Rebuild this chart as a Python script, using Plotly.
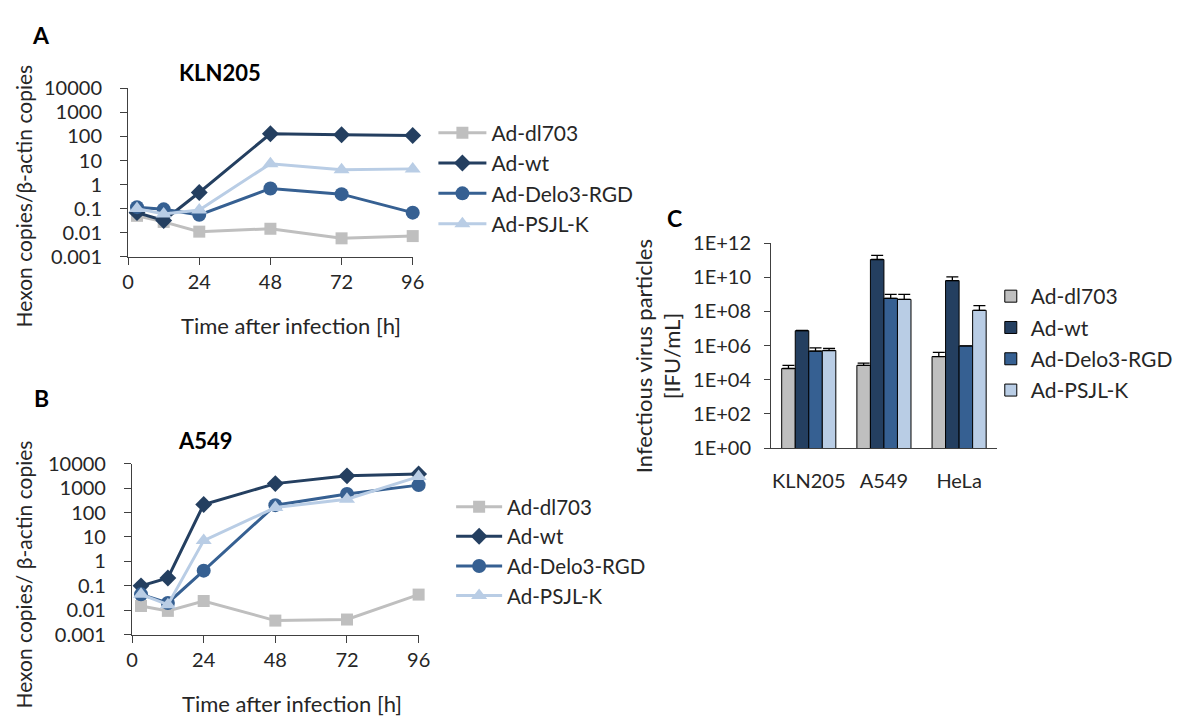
import plotly.graph_objects as go

# ---- data -------------------------------------------------------------
hours = [3, 12, 24, 48, 72, 96]
series_names = ["Ad-dl703", "Ad-wt", "Ad-Delo3-RGD", "Ad-PSJL-K"]

# Hexon copies / beta-actin copies, KLN205 cells
kln205_dl703 = [0.05, 0.028, 0.011, 0.0145, 0.0058, 0.0072]
kln205_wt = [0.068, 0.032, 0.47, 130, 118, 110]
kln205_delo3 = [0.115, 0.093, 0.055, 0.69, 0.40, 0.068]
kln205_psjl = [0.10, 0.06, 0.087, 7.4, 4.1, 4.5]

# Hexon copies / beta-actin copies, A549 cells
a549_dl703 = [0.015, 0.0095, 0.024, 0.0038, 0.0042, 0.044]
a549_wt = [0.10, 0.21, 214, 1520, 3160, 3800]
a549_delo3 = [0.045, 0.02, 0.42, 200, 575, 1320]
a549_psjl = [0.045, 0.017, 7.1, 160, 350, 2950]

# Infectious virus particles [IFU/mL]
cell_lines = ["KLN205", "A549", "HeLa"]
ifu_dl703 = [4.6e4, 7.0e4, 2.3e5]
ifu_wt = [7.5e6, 1.1e11, 6.4e9]
ifu_delo3 = [4.8e5, 5.9e8, 9.6e5]
ifu_psjl = [5.2e5, 5.1e8, 1.17e8]
# upper ends of the error bars
ifu_dl703_hi = [7.0e4, 9.5e4, 4.0e5]
ifu_wt_hi = [7.8e6, 1.9e11, 1.07e10]
ifu_delo3_hi = [7.4e5, 1.0e9, 9.6e5]
ifu_psjl_hi = [7.0e5, 1.0e9, 2.2e8]

# tick labels
copy_ticks = [0.001, 0.01, 0.1, 1, 10, 100, 1000, 10000]
copy_tick_text = ["0.001", "0.01", "0.1", "1", "10", "100", "1000", "10000"]
hour_ticks = [0, 24, 48, 72, 96]
ifu_ticks = [1, 1e2, 1e4, 1e6, 1e8, 1e10, 1e12]
ifu_tick_text = ["1E+00", "1E+02", "1E+04", "1E+06", "1E+08", "1E+10", "1E+12"]

# ---- styling ----------------------------------------------------------
W, H = 1183, 727
FONT = "Lato"
TXT = "#262626"
AXIS = "#404040"
colors = ["#bfbfbf", "#243f60", "#366092", "#b9cde5"]
symbols = ["square", "diamond", "circle", "triangle-up"]
msizes = [12, 13, 14, 14]


def px_x(p):
    return p / W


def px_y(p):
    return 1 - p / H


fig = go.Figure()

line_sets = [
    ("x", "y", "legend", [kln205_dl703, kln205_wt, kln205_delo3, kln205_psjl]),
    ("x2", "y2", "legend2", [a549_dl703, a549_wt, a549_delo3, a549_psjl]),
]
for xa, ya, leg, sets in line_sets:
    for i, vals in enumerate(sets):
        fig.add_trace(go.Scatter(
            x=hours, y=vals, xaxis=xa, yaxis=ya, name=series_names[i],
            mode="lines+markers", legend=leg, legendgroup=f"{leg}-{i}",
            line=dict(color=colors[i], width=3),
            marker=dict(symbol=symbols[i], size=msizes[i], color=colors[i]),
            cliponaxis=False,
        ))

bar_sets = [
    (ifu_dl703, ifu_dl703_hi),
    (ifu_wt, ifu_wt_hi),
    (ifu_delo3, ifu_delo3_hi),
    (ifu_psjl, ifu_psjl_hi),
]
for i, (vals, hi) in enumerate(bar_sets):
    plus = [h - v for h, v in zip(hi, vals)]
    fig.add_trace(go.Bar(
        x=cell_lines, y=vals, xaxis="x3", yaxis="y3", name=series_names[i],
        legend="legend3", legendgroup=f"legend3-{i}",
        marker=dict(color=colors[i], line=dict(color="#000000", width=1)),
        error_y=dict(type="data", array=plus, arrayminus=[0] * len(vals),
                     symmetric=False, color="#000000", thickness=1.3, width=6),
    ))

tick_font = dict(family=FONT, size=20, color=TXT)

line_x_common = dict(range=[0, 96], tickvals=hour_ticks, showline=True,
                     linecolor=AXIS, linewidth=1.2, ticks="outside", ticklen=7,
                     tickcolor=AXIS, showgrid=False, zeroline=False,
                     tickfont=tick_font, ticklabelstandoff=0)
line_y_common = dict(type="log", range=[-3, 4], tickvals=copy_ticks,
                     ticktext=copy_tick_text, showline=True, linecolor=AXIS,
                     linewidth=1.2, ticks="outside", ticklen=7, tickcolor=AXIS,
                     showgrid=False, zeroline=False, tickfont=tick_font,
                     ticklabelstandoff=14)

legend_common = dict(xanchor="left", yanchor="top", bgcolor="rgba(0,0,0,0)")


def legend_font(size):
    return dict(family=FONT, size=size, color=TXT)


fig.update_layout(
    width=W, height=H,
    margin=dict(l=0, r=0, t=0, b=0),
    paper_bgcolor="white", plot_bgcolor="white",
    font=dict(family=FONT, color=TXT),
    barmode="group", bargap=0.28, bargroupgap=0,
    xaxis=dict(domain=[px_x(124), px_x(413)], anchor="y", **line_x_common),
    yaxis=dict(domain=[px_y(252), px_y(78)], anchor="x", **line_y_common),
    xaxis2=dict(domain=[px_x(128), px_x(419)], anchor="y2", **line_x_common),
    yaxis2=dict(domain=[px_y(643), px_y(466)], anchor="x2", **line_y_common),
    xaxis3=dict(domain=[px_x(777), px_x(1006)], anchor="y3", range=[-0.5, 2.5],
                showline=True, linecolor=AXIS, linewidth=1.2, ticks="",
                showgrid=False, zeroline=False, tickfont=tick_font,
                ticklabelstandoff=15),
    yaxis3=dict(domain=[px_y(450), px_y(238)], anchor="x3", type="log",
                range=[0, 12], tickvals=ifu_ticks, ticktext=ifu_tick_text,
                showline=True, linecolor=AXIS, linewidth=1.2, ticks="outside",
                ticklen=6, tickcolor=AXIS, showgrid=False, zeroline=False,
                tickfont=tick_font, ticklabelstandoff=9),
    legend=dict(x=px_x(434), y=px_y(103), itemwidth=48, tracegroupgap=0,
                font=legend_font(21), **legend_common),
    legend2=dict(x=px_x(452), y=px_y(490), itemwidth=46, tracegroupgap=0,
                 font=legend_font(20.5), **legend_common),
    legend3=dict(x=px_x(1000), y=px_y(272), itemwidth=30, tracegroupgap=1,
                 font=legend_font(21), **legend_common),
)

annotations = [
    # panel letters
    dict(text="<b>A</b>", x=36, y=23, size=23),
    dict(text="<b>B</b>", x=36, y=398, size=23),
    dict(text="<b>C</b>", x=679, y=212, size=23),
    # cell line titles
    dict(text="<b>KLN205</b>", x=217, y=62, size=22),
    dict(text="<b>A549</b>", x=203, y=442, size=22),
    # axis titles
    dict(text="Time after infection [h]", x=289, y=323, size=22),
    dict(text="Time after infection [h]", x=290, y=714, size=22),
    dict(text="Hexon copies/β-actin copies", x=18, y=189, size=21, angle=-90),
    dict(text="Hexon copies/ β-actin copies", x=18, y=581, size=21, angle=-90),
    dict(text="Infectious virus particles<br>[IFU/mL]", x=662, y=355, size=22, angle=-90),
]
for a in annotations:
    fig.add_annotation(
        text=a["text"], x=px_x(a["x"]), y=px_y(a["y"]), xref="paper", yref="paper",
        xanchor="center", yanchor="middle", showarrow=False,
        textangle=a.get("angle", 0),
        font=dict(family=FONT, size=a["size"], color="#000000" if "<b>" in a["text"] else TXT),
    )

fig.write_html("out.html")
